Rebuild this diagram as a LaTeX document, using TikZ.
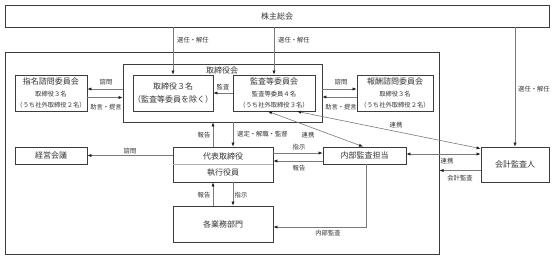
\documentclass[tikz,border=0pt]{standalone}
\usepackage{fontspec}
\setmainfont{Noto Sans CJK JP}
\usetikzlibrary{arrows.meta,calc}
\definecolor{boxc}{HTML}{3C3C3C}
\definecolor{linec}{HTML}{7A7A7A}
\definecolor{txtc}{HTML}{333333}
\definecolor{tipc}{HTML}{1E1E1E}
\newcommand{\bigf}{\fontsize{8}{11}\selectfont}
\newcommand{\smallf}{\fontsize{6.3}{10.5}\selectfont}
\tikzset{
  box/.style={draw=boxc, line width=0.8pt, fill=white, inner sep=0pt, align=center, text=txtc, font=\bigf},
  tribox/.style={box, font=\smallf},
  arr/.style={draw=linec, line width=0.6pt, -{Latex[length=4pt,width=3.2pt,color=tipc]}},
  dblarr/.style={draw=linec, line width=0.6pt, {Latex[length=4pt,width=3.2pt,color=tipc]}-{Latex[length=4pt,width=3.2pt,color=tipc]}},
  lbl/.style={font=\smallf, text=txtc, inner sep=0pt},
}
\begin{document}
\begin{tikzpicture}[x=1pt,y=-1pt]
\useasboundingbox[fill=white] (0,0) rectangle (554,258);
% frames
\node[box, minimum width=544pt, minimum height=22pt] (share) at (277,16) {株主総会};
\node[box, line width=1pt, minimum width=434pt, minimum height=202pt] (outer) at (222,153) {};
\node[box, minimum width=199pt, minimum height=58pt] (board) at (222.5,93) {};
\node[lbl, font=\bigf] (boardlbl) at (222,70) {取締役会};
% boxes
\node[box, minimum width=80pt, minimum height=36pt, font=\fontsize{8}{13}\selectfont] (dirs) at (173,93) {取締役３名\\（監査等委員を除く）};
\node[tribox, minimum width=82pt, minimum height=36pt] (audit) at (274,93) {{\bigf 監査等委員会}\\[1.5pt]監査等委員４名\\（うち社外取締役３名）};
\node[tribox, minimum width=72pt, minimum height=36pt] (nomin) at (51,93) {{\bigf 指名諮問委員会}\\[1.5pt]取締役３名\\（うち社外取締役２名）};
\node[tribox, minimum width=76pt, minimum height=36pt] (remun) at (395,93) {{\bigf 報酬諮問委員会}\\[1.5pt]取締役３名\\（うち社外取締役２名）};
\node[box, minimum width=100pt, minimum height=35pt] (rep) at (223,164.5) {};
\draw[draw=linec!60, line width=0.6pt] (rep.west) -- (rep.east);
\node[lbl, font=\bigf] (reptxt) at (223,156) {代表取締役};
\node[lbl, font=\bigf] (exectxt) at (223,173) {執行役員};
\node[box, minimum width=72pt, minimum height=17pt] (keiei) at (51,155.5) {経営会議};
\node[box, minimum width=83pt, minimum height=17pt] (naibu) at (364.5,155.5) {内部監査担当};
\node[box, minimum width=68pt, minimum height=35pt] (kaikei) at (515,164.5) {会計監査人};
\node[box, minimum width=100pt, minimum height=36pt] (gyomu) at (223,224) {各業務部門};
% shareholders
\draw[arr] (dirs.north |- share.south) -- (dirs.north);
\node[lbl, anchor=west] (l1) at (177,40) {選任・解任};
\draw[arr] (audit.north |- share.south) -- (audit.north);
\node[lbl, anchor=west] (l2) at (278,40) {選任・解任};
\draw[arr] (kaikei.north |- share.south) -- (kaikei.north);
\node[lbl, anchor=west] (l3) at (518,89) {選任・解任};
% committees
\draw[arr] ([yshift=4pt]board.west) -- ([yshift=4pt]nomin.east);
\draw[arr] ([yshift=-4.5pt]nomin.east) -- ([yshift=-4.5pt]board.west);
\node[lbl] (l4) at (106,82) {諮問};
\node[lbl] (l5) at (106,107) {助言・提言};
\draw[arr] ([yshift=4pt]board.east) -- ([yshift=4pt]remun.west);
\draw[arr] ([yshift=-4pt]remun.west) -- ([yshift=-4pt]board.east);
\node[lbl] (l6) at (341,82) {諮問};
\node[lbl] (l7) at (341,107) {助言・提言};
\draw[arr] (audit.west) -- (dirs.east);
\node[lbl] (l8) at (223,87) {監査};
% board <-> rep
\draw[arr] ([xshift=-10pt]rep.north) -- ([xshift=-10pt]rep.north |- board.south);
\node[lbl] (l9) at (204,135) {報告};
\draw[arr] ([xshift=10pt]rep.north |- board.south) -- ([xshift=10pt]rep.north);
\node[lbl, anchor=west] (l10) at (237,134) {選定・解職・監督};
% rep -> keiei
\draw[arr] (rep.west |- keiei.east) -- (keiei.east);
\node[lbl] (l11) at (130,151) {諮問};
% rep <-> naibu
\draw[arr] ([yshift=2.5pt]rep.east |- naibu.west) -- ([yshift=2.5pt]naibu.west);
\draw[arr] ([yshift=-5.5pt]naibu.west) -- ([yshift=-5.5pt]rep.east |- naibu.west);
\node[lbl] (l12) at (299,147) {指示};
\node[lbl] (l13) at (299,168) {報告};
% rep <-> gyomu
\draw[arr] ([xshift=-10pt]gyomu.north) -- ([xshift=-10pt]rep.south);
\node[lbl] (l14) at (204,195) {報告};
\draw[arr] ([xshift=10pt]rep.south) -- ([xshift=10pt]gyomu.north);
\node[lbl] (l15) at (241,195) {指示};
% naibu -> gyomu
\draw[arr] ([xshift=1.5pt]naibu.south) |- ([yshift=-3pt]gyomu.east);
\node[lbl] (l16) at (328,233) {内部監査};
% cooperation
\draw[dblarr] ([xshift=-6pt]audit.south) -- ([xshift=-1.5pt]naibu.north);
\node[lbl] (l17) at (308,135) {連携};
\draw[dblarr] ([xshift=23pt]audit.south) -- ([yshift=-2pt]kaikei.north west);
\node[lbl] (l18) at (396,125) {連携};
\draw[dblarr] ([yshift=1.5pt]naibu.east) -- ([yshift=1.5pt]naibu.east -| kaikei.west);
\node[lbl] (l19) at (447,161) {連携};
\draw[arr] ([yshift=-6pt]kaikei.west) -- ([yshift=-6pt]kaikei.west -| outer.east);
\node[lbl] (l20) at (460,178) {会計監査};
\end{tikzpicture}
\end{document}
